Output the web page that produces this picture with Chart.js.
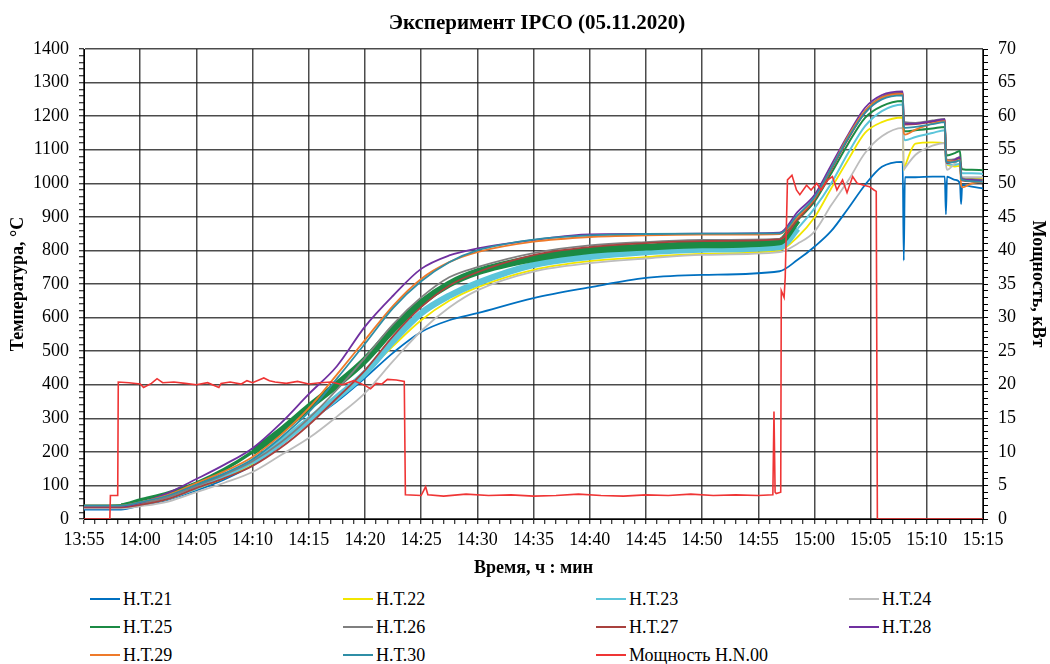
<!DOCTYPE html>
<html>
<head>
<meta charset="utf-8">
<script src="https://cdn.jsdelivr.net/npm/chart.js@4.4.1/dist/chart.umd.min.js"></script>
<style>
  body { margin: 0; background: #fff; font-family: "Liberation Serif", "Times New Roman", serif; color: #000; }
  #wrap { position: relative; width: 1050px; height: 664px; }
  #chart { position: absolute; left: 0; top: 0; }
  #title { position: absolute; left: 0; top: 10px; width: 1074px; text-align: center; font-weight: bold; font-size: 21px; line-height: 24px; }
  #legend { position: absolute; left: 90px; top: 585px; display: grid; grid-template-columns: repeat(4, 253px); grid-auto-rows: 28px; font-size: 18px; }
  .item { display: flex; align-items: center; }
  .swatch { width: 30px; height: 2px; margin-right: 3px; }
</style>
</head>
<body>
<div id="wrap">
  <canvas id="chart" width="1050" height="585"></canvas>
  <div id="title">Эксперимент IPCO (05.11.2020)</div>
  <div id="legend"></div>
</div>
<script>
// minutes after 13:55
const minutes = [0, 3.3, 5, 7.5, 10, 12.5, 15, 17.5, 20, 22.5, 25, 27.5, 30, 32.5, 35, 40, 45, 50, 55, 61.9,
  63.5, 65, 66.5, 68, 69.5, 71, 72.85, 72.95, 73.05, 74, 75.5, 76.6, 76.7, 76.8, 77.5, 77.95, 78.05, 78.15, 79, 80];

const t21 = [28, 28, 40, 58, 85, 118, 160, 220, 290, 350, 420, 495, 557, 592, 613, 658, 690, 718, 727, 738,
  772, 811, 858, 925, 995, 1049, 1064, 770, 1018, 1018, 1020, 1020, 908, 1020, 1010, 1000, 938, 995, 990, 985];
const t22 = [35, 35, 44, 60, 90, 122, 165, 222, 290, 360, 432, 515, 592, 650, 690, 742, 768, 780, 790, 800,
  840, 898, 985, 1070, 1150, 1182, 1196, 1040, 1050, 1118, 1122, 1120, 1065, 1055, 1050, 1052, 1020, 1015, 1015, 1016];
const t23 = [35, 35, 45, 62, 92, 128, 170, 228, 295, 362, 434, 530, 613, 665, 703, 757, 781, 795, 803, 810,
  865, 925, 1000, 1090, 1170, 1215, 1235, 1135, 1128, 1138, 1150, 1158, 1070, 1058, 1055, 1058, 1035, 1030, 1030, 1028];
const t24 = [32, 32, 38, 52, 80, 108, 140, 190, 241, 305, 375, 470, 560, 630, 681, 737, 762, 776, 787, 795,
  820, 856, 935, 1008, 1090, 1140, 1165, 1040, 1045, 1085, 1112, 1120, 1060, 1040, 1060, 1070, 1025, 1018, 1018, 1018];
const t25 = [40, 42, 57, 78, 107, 148, 200, 262, 333, 400, 473, 565, 644, 700, 736, 776, 800, 810, 817, 826,
  890, 945, 1030, 1118, 1195, 1230, 1245, 1160, 1155, 1158, 1163, 1168, 1095, 1083, 1090, 1096, 1050, 1042, 1040, 1039];
const t26 = [38, 38, 46, 66, 98, 132, 172, 228, 300, 385, 480, 580, 660, 720, 750, 792, 815, 825, 831, 834,
  895, 955, 1045, 1135, 1215, 1258, 1270, 1190, 1182, 1180, 1187, 1192, 1085, 1070, 1072, 1078, 1025, 1015, 1012, 1010];
const t27 = [35, 35, 42, 60, 92, 122, 158, 212, 280, 360, 443, 545, 631, 695, 735, 786, 810, 822, 828, 833,
  892, 950, 1040, 1132, 1210, 1255, 1268, 1180, 1175, 1176, 1183, 1188, 1075, 1060, 1068, 1075, 1015, 1008, 1006, 1005];
const t28 = [38, 38, 48, 78, 119, 162, 211, 285, 372, 455, 573, 665, 745, 785, 806, 831, 848, 849, 850, 853,
  915, 965, 1055, 1145, 1225, 1263, 1274, 1185, 1178, 1178, 1185, 1190, 1080, 1065, 1070, 1078, 1020, 1012, 1010, 1008];
const t29 = [40, 40, 50, 72, 107, 142, 185, 250, 330, 430, 533, 635, 715, 765, 795, 826, 840, 845, 847, 849,
  900, 955, 1045, 1140, 1215, 1255, 1266, 1150, 1145, 1160, 1178, 1185, 1080, 1068, 1065, 1070, 995, 988, 1000, 1006];
const t30 = [40, 40, 50, 70, 102, 136, 178, 242, 318, 418, 522, 628, 708, 765, 800, 832, 845, 849, 850, 851,
  905, 958, 1045, 1135, 1210, 1250, 1262, 1170, 1165, 1168, 1176, 1182, 1075, 1062, 1064, 1068, 1015, 1010, 1006, 1005];

const powerMinutes = [0, 2.3, 2.35, 3.0, 3.05, 4, 5, 5.3, 6, 6.5, 7, 8, 9, 10, 11, 12, 12.2, 13, 14, 14.5,
  15, 16, 16.5, 17, 18, 19, 20, 21, 22, 23, 24, 25, 25.5, 26, 26.5, 27, 27.8, 28.5, 28.6, 30,
  30.4, 30.6, 32, 34, 36, 38, 40, 42, 44, 46, 48, 50, 52, 54, 56, 58, 60, 61.3, 61.4, 61.5,
  61.6, 62.0, 62.05, 62.3, 62.4, 62.6, 63.0, 63.4, 63.7, 64.3, 64.7, 65.2, 65.6, 66.2, 66.6, 67.0, 67.5, 67.9, 68.4, 68.8,
  69.4, 69.9, 70.3, 70.5, 70.6, 80];
const power = [0, 0, 3.5, 3.5, 20.4, 20.3, 20.1, 19.6, 20.2, 20.9, 20.3, 20.4, 20.2, 20.0, 20.3, 19.6, 20.2, 20.4, 20.1, 20.6,
  20.3, 21.0, 20.6, 20.4, 20.2, 20.5, 20.1, 20.3, 20.4, 20.0, 20.6, 19.9, 19.4, 20.2, 20.1, 20.8, 20.7, 20.5, 3.6, 3.5,
  4.8, 3.6, 3.4, 3.7, 3.5, 3.6, 3.4, 3.5, 3.7, 3.5, 3.4, 3.6, 3.5, 3.7, 3.5, 3.6, 3.5, 3.6, 16.0, 4.0,
  3.8, 4.0, 34.0, 33.0, 36.0, 50.5, 51.2, 49.0, 48.3, 49.7, 49.0, 50.0, 49.0, 50.5, 51.0, 49.0, 50.5, 48.6, 51.0, 50.0,
  49.7, 49.5, 49.0, 48.8, 0, 0];

const tempNames = ['Н.Т.21', 'Н.Т.22', 'Н.Т.23', 'Н.Т.24', 'Н.Т.25', 'Н.Т.26', 'Н.Т.27', 'Н.Т.28', 'Н.Т.29', 'Н.Т.30'];
const powerName = 'Мощность Н.N.00';

const temps = [t21, t22, t23, t24, t25, t26, t27, t28, t29, t30];
const colors = ['#0070C0', '#F2E600', '#5BC5DA', '#BDBDBD', '#1B8A44', '#7F7F7F', '#A9413E', '#7030A0', '#EE7A2A', '#2F8EA6'];
const widths = [1.8, 1.8, 2, 1.8, 2, 1.8, 1.8, 1.8, 1.8, 1.8];
// T23 and T25 are noisy signals: they show as a wide band while the temperature is steady
const noisyWidth = { 2: 6.5, 4: 7 };
const powerColor = '#EF3535';

const FONT = "'Liberation Serif', 'Times New Roman', serif";
const gridColor = 'rgba(30,30,30,0.8)';

function hhmm(v) {
  const total = 13 * 60 + 55 + Math.round(v);
  return Math.floor(total / 60) + ':' + String(total % 60).padStart(2, '0');
}

function bandWidth(i) {
  return ctx => {
    const x = ctx.p0.parsed.x;
    if (x < 3.3 || x >= 62) return widths[i];
    if (x < 15) return 3.5;
    return noisyWidth[i];
  };
}

const datasets = temps.map((vals, i) => ({
  label: tempNames[i],
  data: minutes.map((m, k) => ({ x: m, y: vals[k] })),
  borderColor: colors[i],
  backgroundColor: colors[i],
  borderWidth: widths[i],
  segment: noisyWidth[i] ? { borderWidth: bandWidth(i) } : undefined,
  pointRadius: 0,
  cubicInterpolationMode: 'monotone',
  yAxisID: 'y',
  order: 20 - i
}));
datasets.push({
  label: powerName,
  data: powerMinutes.map((m, k) => ({ x: m, y: power[k] })),
  borderColor: powerColor,
  backgroundColor: powerColor,
  borderWidth: 1.6,
  pointRadius: 0,
  tension: 0,
  yAxisID: 'y1',
  order: 0
});

const tickFont = { family: FONT, size: 18 };
const titleFont = { family: FONT, size: 18, weight: 'bold' };

new Chart(document.getElementById('chart'), {
  type: 'line',
  data: { datasets: datasets },
  options: {
    responsive: false,
    animation: false,
    devicePixelRatio: 1,
    layout: { padding: { top: 49, left: 0, right: 0, bottom: 0 } },
    plugins: { legend: { display: false }, tooltip: { enabled: false } },
    scales: {
      x: {
        type: 'linear', min: 0, max: 80,
        ticks: {
          stepSize: 1, autoSkip: false, maxRotation: 0, maxTicksLimit: 200, padding: 5,
          color: '#000', font: tickFont,
          callback: v => (v % 5 === 0 ? hhmm(v) : '')
        },
        grid: {
          color: c => (c.tick && c.tick.value % 5 === 0 ? gridColor : 'rgba(0,0,0,0)'),
          lineWidth: 1.5, tickColor: '#000', tickLength: 5, tickWidth: 1
        },
        border: { color: '#000', width: 1 },
        title: { display: true, text: 'Время, ч : мин', color: '#000', font: titleFont, padding: { top: 0, bottom: 6 } },
        afterFit: s => { s.height = 66; }
      },
      y: {
        position: 'left', min: 0, max: 1400,
        ticks: {
          stepSize: 20, autoSkip: false, maxTicksLimit: 200, padding: 10,
          color: '#000', font: tickFont,
          callback: v => (v % 100 === 0 ? v : '')
        },
        grid: {
          color: c => (c.tick && c.tick.value % 100 === 0 ? gridColor : 'rgba(0,0,0,0)'),
          lineWidth: 1.5, tickColor: '#000', tickLength: 5, tickWidth: 1
        },
        border: { color: '#000', width: 1 },
        title: { display: true, text: 'Температура, °С', color: '#000', font: titleFont, padding: { top: 8, bottom: 0 } },
        afterFit: s => { s.width = 84; }
      },
      y1: {
        position: 'right', min: 0, max: 70,
        ticks: {
          stepSize: 1, autoSkip: false, maxTicksLimit: 200, padding: 10,
          color: '#000', font: tickFont,
          callback: v => (v % 5 === 0 ? v : '')
        },
        grid: { drawOnChartArea: false, tickColor: '#000', tickLength: 5, tickWidth: 1 },
        border: { color: '#000', width: 1 },
        title: { display: true, text: 'Мощность, кВт', color: '#000', font: titleFont, padding: { top: 2, bottom: 0 } },
        afterFit: s => { s.width = 67; }
      }
    }
  }
});

// legend in a 4-column grid, as in the original
const legend = document.getElementById('legend');
tempNames.concat([powerName]).forEach((name, i) => {
  const item = document.createElement('div');
  item.className = 'item';
  const sw = document.createElement('span');
  sw.className = 'swatch';
  sw.style.background = i < colors.length ? colors[i] : powerColor;
  const txt = document.createElement('span');
  txt.textContent = name;
  item.appendChild(sw);
  item.appendChild(txt);
  legend.appendChild(item);
});
</script>
</body>
</html>
